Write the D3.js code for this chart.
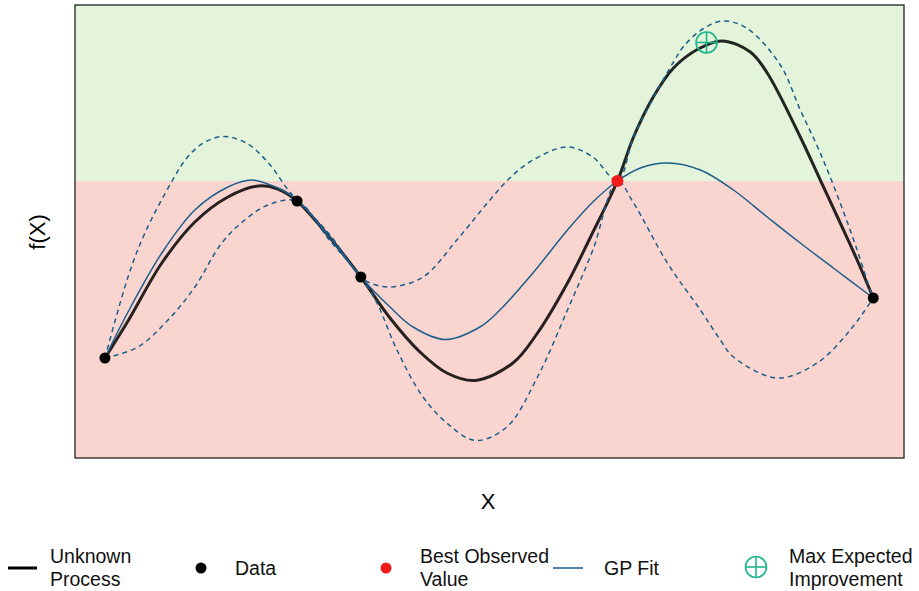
<!DOCTYPE html>
<html>
<head>
<meta charset="utf-8">
<script src="https://cdn.jsdelivr.net/npm/d3@7"></script>
<style>
  body { margin: 0; background: #fff; font-family: "Liberation Sans", Arial, sans-serif; }
</style>
</head>
<body>
<div id="chart"></div>
<script>
// curves (x, f(x))
const unknownX = [0, 0.30, 0.74, 1.17, 1.60, 2.0, 2.25, 2.5, 2.92, 3.33, 3.71, 4.10, 4.45, 4.82, 5.31, 5.63, 6.02, 6.32, 6.67, 6.88, 7.14, 7.40, 7.71, 8.03, 8.40, 8.62, 9.05, 9.31, 9.57, 9.79, 10];
const unknownY = [2.00, 2.74, 3.90, 4.72, 5.22, 5.44, 5.38, 5.14, 4.42, 3.62, 2.80, 2.12, 1.70, 1.55, 1.90, 2.50, 3.50, 4.42, 5.54, 6.42, 7.23, 7.80, 8.17, 8.34, 8.12, 7.70, 6.42, 5.56, 4.70, 3.96, 3.20];

const fitX = [0, 0.30, 0.74, 1.17, 1.60, 1.91, 2.25, 2.5, 2.92, 3.33, 3.71, 4.01, 4.43, 4.88, 5.14, 5.57, 6.02, 6.35, 6.67, 6.97, 7.32, 7.75, 8.18, 8.62, 9.05, 9.48, 10];
const fitY = [2.00, 2.92, 4.10, 4.96, 5.42, 5.56, 5.40, 5.16, 4.42, 3.62, 3.02, 2.62, 2.37, 2.62, 2.96, 3.70, 4.56, 5.12, 5.54, 5.80, 5.90, 5.76, 5.36, 4.82, 4.30, 3.80, 3.20];

const upperX = [0, 0.30, 0.52, 0.87, 1.06, 1.28, 1.54, 1.85, 2.15, 2.37, 2.5, 2.92, 3.33, 3.45, 3.71, 4.14, 4.58, 5.01, 5.27, 5.57, 6.02, 6.35, 6.67, 6.88, 7.10, 7.40, 7.53, 7.79, 8.05, 8.36, 8.79, 9.05, 9.31, 9.57, 9.79, 9.96, 10];
const upperY = [2.00, 3.62, 4.50, 5.53, 5.99, 6.30, 6.43, 6.29, 5.86, 5.39, 5.16, 4.48, 3.62, 3.50, 3.42, 3.62, 4.36, 5.16, 5.60, 5.96, 6.22, 6.02, 5.54, 6.42, 7.10, 7.92, 8.23, 8.59, 8.74, 8.59, 7.86, 6.96, 6.10, 5.10, 4.16, 3.36, 3.20];

const lowerX = [0, 0.43, 0.82, 1.17, 1.52, 1.82, 2.12, 2.5, 2.92, 3.33, 3.54, 3.80, 4.14, 4.45, 4.82, 5.23, 5.63, 6.02, 6.35, 6.67, 6.88, 7.32, 7.75, 8.01, 8.18, 8.75, 9.27, 9.70, 10];
const lowerY = [2.00, 2.22, 2.76, 3.42, 4.30, 4.76, 5.06, 5.14, 4.36, 3.62, 3.10, 2.16, 1.22, 0.70, 0.35, 0.62, 1.62, 2.96, 4.16, 5.54, 5.10, 3.90, 2.96, 2.36, 2.02, 1.60, 1.90, 2.56, 3.20];

const dataX = [0, 2.5, 3.33, 10];
const dataY = [2.00, 5.14, 3.62, 3.20];
const bestX = 6.67, bestY = 5.54;
const eiX = 7.83, eiY = 8.31;

const legendLabels = [['Unknown', 'Process'], ['Data'], ['Best Observed', 'Value'], ['GP Fit'], ['Max Expected', 'Improvement']];

const W = 919, H = 591;
const M = { left: 75, right: 15, top: 5, bottom: 133 };
const GREEN = '#e3f4da', RED = '#fad5d0', BLUE = '#1b5e8c', TEAL = '#1fb48c';

const svg = d3.select('#chart').append('svg').attr('width', W).attr('height', H);

const x = d3.scaleLinear().domain([-0.39, 10.40]).range([M.left, W - M.right]);
const y = d3.scaleLinear().domain([0, 9.06]).range([H - M.bottom, M.top]);

// improvement region above best observed value
svg.append('rect')
  .attr('x', x(-0.39)).attr('y', y(9.06))
  .attr('width', x(10.40) - x(-0.39)).attr('height', y(bestY) - y(9.06))
  .attr('fill', GREEN);
svg.append('rect')
  .attr('x', x(-0.39)).attr('y', y(bestY))
  .attr('width', x(10.40) - x(-0.39)).attr('height', y(0) - y(bestY))
  .attr('fill', RED);

const line = d3.line().x(d => x(d[0])).y(d => y(d[1])).curve(d3.curveCatmullRom.alpha(0.5));
const pairs = (xs, ys) => xs.map((v, i) => [v, ys[i]]);

svg.append('path').datum(pairs(unknownX, unknownY))
  .attr('d', line).attr('fill', 'none')
  .attr('stroke', '#000').attr('stroke-opacity', 0.85).attr('stroke-width', 3);

[[upperX, upperY], [lowerX, lowerY]].forEach(([xs, ys]) => {
  svg.append('path').datum(pairs(xs, ys))
    .attr('d', line).attr('fill', 'none')
    .attr('stroke', BLUE).attr('stroke-width', 1.5)
    .attr('stroke-dasharray', '5,4');
});

svg.append('path').datum(pairs(fitX, fitY))
  .attr('d', line).attr('fill', 'none')
  .attr('stroke', BLUE).attr('stroke-width', 1.5);

svg.selectAll('.pt').data(pairs(dataX, dataY)).enter().append('circle')
  .attr('cx', d => x(d[0])).attr('cy', d => y(d[1])).attr('r', 5.5).attr('fill', '#000');

svg.append('circle').attr('cx', x(bestX)).attr('cy', y(bestY)).attr('r', 6).attr('fill', '#f01a1a');

function crossCircle(g, cx, cy, r) {
  g.append('circle').attr('cx', cx).attr('cy', cy).attr('r', r)
    .attr('fill', 'none').attr('stroke', TEAL).attr('stroke-width', 1.6);
  g.append('line').attr('x1', cx - r).attr('x2', cx + r).attr('y1', cy).attr('y2', cy)
    .attr('stroke', TEAL).attr('stroke-width', 1.6);
  g.append('line').attr('x1', cx).attr('x2', cx).attr('y1', cy - r).attr('y2', cy + r)
    .attr('stroke', TEAL).attr('stroke-width', 1.6);
}
crossCircle(svg, x(eiX), y(eiY), 10.5);

// frame
svg.append('rect')
  .attr('x', x(-0.39)).attr('y', y(9.06))
  .attr('width', x(10.40) - x(-0.39)).attr('height', y(0) - y(9.06))
  .attr('fill', 'none').attr('stroke', '#222').attr('stroke-width', 1.3);

svg.append('text').attr('x', 488).attr('y', 509).attr('text-anchor', 'middle')
  .style('font-size', '22px').text('X');
svg.append('text').attr('transform', 'translate(45,232) rotate(-90)').attr('text-anchor', 'middle')
  .style('font-size', '22px').text('f(X)');

// legend
const legendPos = [8, 185, 370, 553, 745];
const textPos = [50, 235, 420, 604, 789];
const ly = 568;
const leg = svg.append('g');
legendPos.forEach((lx, i) => {
  if (i === 0) leg.append('line').attr('x1', lx).attr('x2', lx + 29).attr('y1', ly).attr('y2', ly).attr('stroke', '#000').attr('stroke-width', 3);
  if (i === 1) leg.append('circle').attr('cx', lx + 16).attr('cy', ly).attr('r', 5.5).attr('fill', '#000');
  if (i === 2) leg.append('circle').attr('cx', lx + 16).attr('cy', ly).attr('r', 5.5).attr('fill', '#f01a1a');
  if (i === 3) leg.append('line').attr('x1', lx).attr('x2', lx + 30).attr('y1', ly).attr('y2', ly).attr('stroke', BLUE).attr('stroke-width', 1.5);
  if (i === 4) crossCircle(leg, lx + 11, ly - 1, 10.5);
  const lines = legendLabels[i];
  const t = leg.append('text').attr('x', textPos[i]).style('font-size', '19.5px').attr('fill', '#111');
  lines.forEach((s, j) => {
    const base = lines.length === 1 ? ly + 7 : ly - 5 + j * 23;
    t.append('tspan').attr('x', textPos[i]).attr('y', base).text(s);
  });
});
</script>
</body>
</html>
